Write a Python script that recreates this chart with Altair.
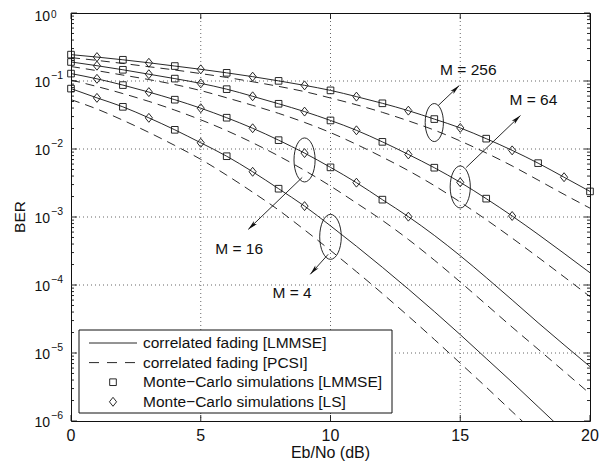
import math
import altair as alt
import pandas as pd

# ---------------- data (log10 of BER) ----------------
snr_db = list(range(21))
orders = ["256", "64", "16", "4"]

lmmse_256 = [-0.612, -0.648, -0.688, -0.732, -0.780, -0.828, -0.880, -0.936, -0.998, -1.064, -1.138,
             -1.230, -1.328, -1.436, -1.560, -1.690, -1.848, -2.020, -2.208, -2.415, -2.624]
lmmse_64 = [-0.720, -0.775, -0.835, -0.900, -0.965, -1.035, -1.120, -1.225, -1.335, -1.450, -1.580,
            -1.725, -1.895, -2.080, -2.275, -2.490, -2.730, -2.985, -3.255, -3.535, -3.820]
lmmse_16 = [-0.891, -0.968, -1.060, -1.163, -1.275, -1.400, -1.540, -1.695, -1.870, -2.060, -2.270,
            -2.495, -2.745, -2.995, -3.270, -3.570, -3.890, -4.220, -4.555, -4.880, -5.200]
lmmse_4 = [-1.112, -1.248, -1.380, -1.542, -1.718, -1.909, -2.106, -2.335, -2.584, -2.840, -3.130,
           -3.430, -3.740, -4.060, -4.390, -4.730, -5.080, -5.430, -5.790, -6.150, -6.500]

pcsi_256 = [-0.656, -0.697, -0.742, -0.790, -0.838, -0.891, -0.948, -1.011, -1.079, -1.156, -1.250,
            -1.350, -1.461, -1.586, -1.722, -1.882, -2.058, -2.249, -2.457, -2.667, -2.870]
pcsi_64 = [-0.787, -0.848, -0.913, -0.979, -1.052, -1.141, -1.247, -1.358, -1.476, -1.609, -1.759,
           -1.932, -2.119, -2.318, -2.538, -2.781, -3.039, -3.311, -3.592, -3.880, -4.170]
pcsi_16 = [-0.986, -1.081, -1.185, -1.300, -1.428, -1.571, -1.730, -1.908, -2.102, -2.315, -2.545,
           -2.795, -3.050, -3.330, -3.634, -3.956, -4.287, -4.620, -4.944, -5.270, -5.600]
pcsi_4 = [-1.274, -1.412, -1.577, -1.756, -1.948, -2.152, -2.385, -2.635, -2.898, -3.190, -3.492,
          -3.804, -4.126, -4.458, -4.800, -5.150, -5.502, -5.862, -6.220, -6.570, -6.920]

# Monte-Carlo points (even dB: LMMSE squares, odd dB: LS diamonds)
sim_256 = lmmse_256[:21]
sim_64 = lmmse_64[:18]
sim_16 = lmmse_16[:14]
sim_4 = lmmse_4[:10]

legend_labels = ["correlated fading [LMMSE]", "correlated fading [PCSI]",
                 "Monte\u2212Carlo simulations [LMMSE]", "Monte\u2212Carlo simulations [LS]"]
x_ticks = [0, 5, 10, 15, 20]
y_exps = [0, -1, -2, -3, -4, -5, -6]
x_title = "Eb/No (dB)"
y_title = "BER"

# ---------------- tables ----------------
rows = []
for m, s, d in zip(orders, [lmmse_256, lmmse_64, lmmse_16, lmmse_4], [pcsi_256, pcsi_64, pcsi_16, pcsi_4]):
    for x, a, b in zip(snr_db, s, d):
        rows.append({"M": m, "x": x, "v": 10 ** a, "kind": "LMMSE"})
        rows.append({"M": m, "x": x, "v": 10 ** b, "kind": "PCSI"})
curves = pd.DataFrame(rows)

prow = []
for m, s in zip(orders, [sim_256, sim_64, sim_16, sim_4]):
    for x, a in zip(snr_db, s):
        prow.append({"M": m, "x": x, "v": 10 ** a, "method": "LMMSE" if x % 2 == 0 else "LS"})
pts = pd.DataFrame(prow)

# ---------------- layout ----------------
W, H = 519, 408
FONT = "Liberation Sans"
INK = "#111111"
GRID = "#555555"
xscale = alt.Scale(domain=[0, 20], nice=False, zero=False)
yscale = alt.Scale(type="log", domain=[1e-6, 1], nice=False)
Xn = alt.X("x:Q", scale=xscale, axis=None)
Yn = alt.Y("v:Q", scale=yscale, axis=None)


def to_px(xv, lv):
    return xv / 20 * W, (0 - lv) / 6 * H


# annotations (ellipse centre, arrow start/end, label) in data coordinates
ann = [
    {"M": "256", "ex": 14, "ey": -1.611, "eh": 38, "ax": 14.15, "ay": -1.361, "bx": 14.96, "by": -1.068,
     "tx": 15.31, "ty": -0.833},
    {"M": "64", "ex": 15, "ey": -2.558, "eh": 42, "ax": 15.23, "ay": -2.272, "bx": 17.32, "by": -1.508,
     "tx": 17.82, "ty": -1.273},
    {"M": "16", "ex": 9, "ey": -2.161, "eh": 44, "ax": 8.91, "ay": -2.418, "bx": 6.83, "by": -3.182,
     "tx": 6.48, "ty": -3.476},
    {"M": "4", "ex": 10, "ey": -3.292, "eh": 45, "ax": 9.91, "ay": -3.549, "bx": 9.22, "by": -3.843,
     "tx": 8.52, "ty": -4.122},
]
for a in ann:
    x0, y0 = to_px(a["ax"], a["ay"])
    x1, y1 = to_px(a["bx"], a["by"])
    a["ang"] = math.degrees(math.atan2(x1 - x0, -(y1 - y0))) % 360
    a["ev"] = 10 ** a["ey"]
    a["av"] = 10 ** a["ay"]
    a["bv"] = 10 ** a["by"]
    a["tv"] = 10 ** a["ty"]
    a["label"] = "M = " + a["M"]
    a["esize"] = a["eh"] ** 2
annd = pd.DataFrame(ann)

ELLIPSE = ("M0,-1 C0.26,-1 0.48,-0.552 0.48,0 C0.48,0.552 0.26,1 0,1 "
           "C-0.26,1 -0.48,0.552 -0.48,0 C-0.48,-0.552 -0.26,-1 0,-1 Z")
ARROW = "M0,0 L-0.42,1.9 L0,1.45 L0.42,1.9 Z"
DIAMOND = "M0,-1 L0.8,0 L0,1 L-0.8,0 Z"

one = pd.DataFrame({"k": [0]})

# grid (dotted)
gx = pd.DataFrame({"x": x_ticks[1:-1]})
gy = pd.DataFrame({"v": [10.0 ** e for e in y_exps[1:-1]]})
grid_x = alt.Chart(gx).mark_rule(color=GRID, strokeWidth=0.9, strokeDash=[1, 3]).encode(
    x=Xn, y=alt.value(0), y2=alt.value(H))
grid_y = alt.Chart(gy).mark_rule(color=GRID, strokeWidth=0.9, strokeDash=[1, 3]).encode(
    y=Yn, x=alt.value(0), x2=alt.value(W))

solid = alt.Chart(curves).transform_filter("datum.kind == 'LMMSE'").mark_line(
    color=INK, strokeWidth=0.9, clip=True, interpolate="monotone").encode(x=Xn, y=Yn, detail="M:N")
dashed = alt.Chart(curves).transform_filter("datum.kind == 'PCSI'").mark_line(
    color=INK, strokeWidth=0.9, strokeDash=[9, 6], clip=True, interpolate="monotone").encode(
    x=Xn, y=Yn, detail="M:N")
squares = alt.Chart(pts).transform_filter("datum.method == 'LMMSE'").mark_point(
    shape="square", size=44, filled=False, color=INK, strokeWidth=0.9, opacity=1).encode(x=Xn, y=Yn)
diamonds = alt.Chart(pts).transform_filter("datum.method == 'LS'").mark_point(
    shape=DIAMOND, size=80, filled=False, color=INK, strokeWidth=0.9, opacity=1).encode(x=Xn, y=Yn)

# annotations
ellipses = alt.Chart(annd).mark_point(shape=ELLIPSE, filled=False, color=INK, strokeWidth=0.9,
                                      opacity=1).encode(
    x=alt.X("ex:Q", scale=xscale, axis=None), y=alt.Y("ev:Q", scale=yscale, axis=None),
    size=alt.Size("esize:Q", scale=None, legend=None))
arrows = alt.Chart(annd).mark_rule(color=INK, strokeWidth=0.9).encode(
    x=alt.X("ax:Q", scale=xscale, axis=None), y=alt.Y("av:Q", scale=yscale, axis=None),
    x2="bx:Q", y2="bv:Q")
heads = alt.Chart(annd).mark_point(shape=ARROW, filled=True, color=INK, size=110, opacity=1).encode(
    x=alt.X("bx:Q", scale=xscale, axis=None), y=alt.Y("bv:Q", scale=yscale, axis=None),
    angle=alt.Angle("ang:Q", scale=None))
labels = alt.Chart(annd).mark_text(font=FONT, fontSize=15.5, color=INK, align="center",
                                   baseline="middle").encode(
    x=alt.X("tx:Q", scale=xscale, axis=None), y=alt.Y("tv:Q", scale=yscale, axis=None), text="label:N")

# ticks (inward, on all four sides)
xt = pd.DataFrame({"x": x_ticks})
xt_bot = alt.Chart(xt).mark_rule(color=INK, strokeWidth=0.9).encode(
    x=Xn, y=alt.value(H), y2=alt.value(H - 6))
xt_top = alt.Chart(xt).mark_rule(color=INK, strokeWidth=0.9).encode(
    x=Xn, y=alt.value(0), y2=alt.value(6))
major = pd.DataFrame({"v": [10.0 ** e for e in y_exps]})
minor = pd.DataFrame({"v": [m * 10.0 ** e for e in range(-6, 0) for m in range(2, 10)]})
yt = []
for df, ln in [(major, 6), (minor, 3)]:
    yt.append(alt.Chart(df).mark_rule(color=INK, strokeWidth=0.9).encode(
        y=Yn, x=alt.value(0), x2=alt.value(ln)))
    yt.append(alt.Chart(df).mark_rule(color=INK, strokeWidth=0.9).encode(
        y=Yn, x=alt.value(W), x2=alt.value(W - ln)))

# x tick labels and title
xlab = alt.Chart(xt).transform_calculate(t="format(datum.x, 'd')").mark_text(
    font=FONT, fontSize=16, color=INK, align="center", baseline="alphabetic").encode(
    x=Xn, y=alt.value(H + 20), text="t:N")
xtitle = alt.Chart(one).transform_calculate(t="'" + x_title + "'").mark_text(
    font=FONT, fontSize=16, color=INK, align="center", baseline="alphabetic").encode(
    x=alt.value(W / 2), y=alt.value(H + 37), text="t:N")

# y tick labels 10^e
yl = pd.DataFrame({"v": [10.0 ** e for e in y_exps],
                   "e": y_exps,
                   "sup": [str(e).replace("-", "\u2212") for e in y_exps]})
ybase = alt.Chart(yl).transform_filter("datum.e < 0").transform_calculate(b="'10'").mark_text(
    font=FONT, fontSize=14, color=INK, align="right", baseline="middle", dy=2).encode(
    y=Yn, x=alt.value(-21), text="b:N")
ybase0 = alt.Chart(yl).transform_filter("datum.e == 0").transform_calculate(b="'10'").mark_text(
    font=FONT, fontSize=14, color=INK, align="right", baseline="middle", dy=4).encode(
    y=Yn, x=alt.value(-21), text="b:N")
yexp = alt.Chart(yl).transform_filter("datum.e < 0").mark_text(
    font=FONT, fontSize=10.5, color=INK, align="left", baseline="middle", dy=-5).encode(
    y=Yn, x=alt.value(-20), text="sup:N")
yexp0 = alt.Chart(yl).transform_filter("datum.e == 0").mark_text(
    font=FONT, fontSize=10, color=INK, align="left", baseline="middle", dy=1.5).encode(
    y=Yn, x=alt.value(-20), text="sup:N")
ytitle = alt.Chart(one).transform_calculate(t="'" + y_title + "'").mark_text(
    font=FONT, fontSize=15.5, color=INK, angle=270, align="center", baseline="middle").encode(
    x=alt.value(-51), y=alt.value(204), text="t:N")

# legend (drawn inside the plot, lower left)
LX0, LX1, LY0, LY1 = 8, 321, 317, 400
box = alt.Chart(one).mark_rect(fill="white", stroke=INK, strokeWidth=1).encode(
    x=alt.value(LX0), x2=alt.value(LX1), y=alt.value(LY0), y2=alt.value(LY1))
ld = pd.DataFrame({"label": legend_labels, "row": list(range(len(legend_labels)))})
ldp = alt.Chart(ld).transform_calculate(ly="330 + 19.6*datum.row")
ltext = ldp.mark_text(font=FONT, fontSize=15.5, color=INK, align="left", baseline="middle").encode(
    x=alt.value(72), y=alt.Y("ly:Q", scale=None), text="label:N")
lsolid = ldp.transform_filter("datum.row == 0").mark_rule(color=INK, strokeWidth=0.9).encode(
    x=alt.value(18), x2=alt.value(66), y=alt.Y("ly:Q", scale=None))
ldash = ldp.transform_filter("datum.row == 1").mark_rule(color=INK, strokeWidth=0.9,
                                                         strokeDash=[10, 8]).encode(
    x=alt.value(18), x2=alt.value(66), y=alt.Y("ly:Q", scale=None))
lsq = ldp.transform_filter("datum.row == 2").mark_point(shape="square", size=44, filled=False, color=INK,
                                                        strokeWidth=0.9, opacity=1).encode(
    x=alt.value(42), y=alt.Y("ly:Q", scale=None))
ldi = ldp.transform_filter("datum.row == 3").mark_point(shape=DIAMOND, size=80, filled=False, color=INK,
                                                        strokeWidth=0.9, opacity=1).encode(
    x=alt.value(42), y=alt.Y("ly:Q", scale=None))

chart = alt.layer(
    grid_x, grid_y,
    solid, dashed, squares, diamonds, ellipses, arrows, heads, labels,
    xt_bot, xt_top, *yt, xlab, xtitle, ybase, ybase0, yexp, yexp0, ytitle,
    box, ltext, lsolid, ldash, lsq, ldi,
).properties(
    width=W, height=H,
    padding={"left": 63, "top": 5, "right": 15, "bottom": 40},
    autosize=alt.AutoSizeParams(type="none"),
    background="white",
).configure_view(stroke=INK, strokeWidth=1)

chart.save("out.html", embed_options={"renderer": "svg", "actions": False})
